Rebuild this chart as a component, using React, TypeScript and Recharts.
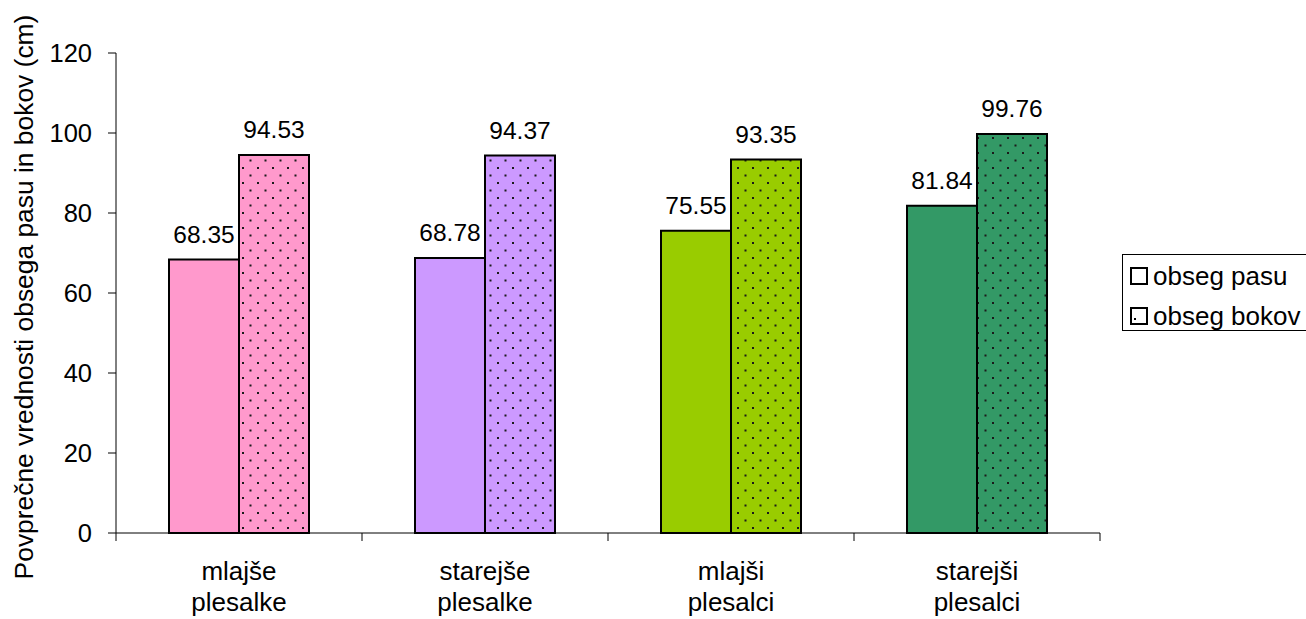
import React from 'react';
import { BarChart, Bar, XAxis, YAxis, Cell, LabelList, Legend } from 'recharts';

// Groups of dancers
const categories = ['mlajše plesalke', 'starejše plesalke', 'mlajši plesalci', 'starejši plesalci'];
// Mean waist circumference (cm)
const waistValues = [68.35, 68.78, 75.55, 81.84];
// Mean hip circumference (cm)
const hipValues = [94.53, 94.37, 93.35, 99.76];
// One colour per group
const groupColors = ['#FF99CC', '#CC99FF', '#99CC00', '#339966'];
const yTicks = [0, 20, 40, 60, 80, 100, 120];
const seriesNames = ['obseg pasu', 'obseg bokov'];
const yTitle = 'Povprečne vrednosti obsega pasu in bokov (cm)';

const data = categories.map((name, i) => ({
  name,
  pasu: waistValues[i],
  bokov: hipValues[i],
}));

const FONT = '"Liberation Sans", Arial, sans-serif';

const CategoryTick = (props: any) => {
  const { x, y, payload, index } = props;
  const half = payload && payload.offset ? payload.offset : 123;
  const lines = String(payload.value).split(' ');
  return (
    <g>
      <line x1={x - half} y1={y} x2={x - half} y2={y + 8} stroke="#000" strokeWidth={1} />
      {index === categories.length - 1 && (
        <line x1={x + half} y1={y} x2={x + half} y2={y + 8} stroke="#000" strokeWidth={1} />
      )}
      <text x={x} y={y} textAnchor="middle" fontFamily={FONT} fontSize={26} fill="#000">
        {lines.map((l, k) => (
          <tspan key={k} x={x} dy={k === 0 ? 47 : 31}>
            {l}
          </tspan>
        ))}
      </text>
    </g>
  );
};

const AxisTitle = (props: any) => {
  const vb = props.viewBox || { y: 53, height: 480 };
  const cy = vb.y + vb.height / 2 + 4;
  return (
    <text
      transform={`translate(33, ${cy}) rotate(-90)`}
      textAnchor="middle"
      fontFamily={FONT}
      fontSize={26.4}
      fill="#000"
    >
      {yTitle}
    </text>
  );
};

const LegendBox = () => (
  <div
    style={{
      border: '1px solid #000',
      width: 200,
      height: 77,
      boxSizing: 'border-box',
      fontFamily: FONT,
      fontSize: 26,
      color: '#000',
      background: '#fff',
      position: 'relative',
    }}
  >
    {seriesNames.map((n, i) => (
      <div
        key={n}
        style={{ position: 'absolute', left: 7, top: 11 + i * 40, height: 20, display: 'flex', alignItems: 'center', whiteSpace: 'nowrap' }}
      >
        <svg width={18} height={18} style={{ marginRight: 5 }}>
          <rect x={1} y={1} width={16} height={16} fill={i === 0 ? '#fff' : 'url(#dots-legend)'} stroke="#000" strokeWidth={2} />
        </svg>
        <span style={{ lineHeight: '20px' }}>{n}</span>
      </div>
    ))}
  </div>
);

export default function App() {
  return (
    <div style={{ position: 'absolute', left: 0, top: 0, width: 1306, height: 619, overflow: 'hidden', background: '#fff' }}>
      <BarChart
        width={1306}
        height={619}
        data={data}
        margin={{ top: 53, right: 206, bottom: 0, left: 0 }}
        barGap={0}
        barSize={70}
      >
        <defs>
          {groupColors.map((c, i) => (
            <pattern key={i} id={`dots-${i}`} width={15} height={15} patternUnits="userSpaceOnUse">
              <rect width={15} height={15} fill={c} />
              <rect x={2} y={2} width={2} height={2} fill="#1a1a1a" />
              <rect x={9.5} y={9.5} width={2} height={2} fill="#1a1a1a" />
            </pattern>
          ))}
          <pattern id="dots-legend" x={0} y={0} width={15} height={15} patternUnits="userSpaceOnUse">
            <rect width={15} height={15} fill="#fff" />
            <rect x={4} y={11} width={2} height={2} fill="#000" />
          </pattern>
        </defs>
        <XAxis
          dataKey="name"
          interval={0}
          height={86}
          tickSize={0}
          tickMargin={0}
          tickLine={false}
          axisLine={{ stroke: '#000', strokeWidth: 1 }}
          tick={<CategoryTick />}
        />
        <YAxis
          width={116}
          domain={[0, 120]}
          ticks={yTicks}
          interval={0}
          tickSize={8}
          tickMargin={16}
          tickLine={{ stroke: '#000' }}
          axisLine={{ stroke: '#000', strokeWidth: 1 }}
          tick={{ fill: '#000', fontSize: 25.5, fontFamily: FONT }}
          label={<AxisTitle />}
        />
        <Legend
          layout="vertical"
          align="center"
          verticalAlign="middle"
          content={<LegendBox />}
          wrapperStyle={{ left: 1122, top: 254, width: 200, height: 77 }}
        />
        <Bar dataKey="pasu" name={seriesNames[0]} stroke="#000" strokeWidth={2} isAnimationActive={false}>
          {data.map((_, i) => (
            <Cell key={i} fill={groupColors[i]} />
          ))}
          <LabelList
            dataKey="pasu"
            position="top"
            offset={17}
            formatter={(v: any) => Number(v).toFixed(2)}
            style={{ fill: '#000', fontSize: 24.5, fontFamily: FONT }}
          />
        </Bar>
        <Bar dataKey="bokov" name={seriesNames[1]} stroke="#000" strokeWidth={2} isAnimationActive={false}>
          {data.map((_, i) => (
            <Cell key={i} fill={`url(#dots-${i})`} />
          ))}
          <LabelList
            dataKey="bokov"
            position="top"
            offset={17}
            formatter={(v: any) => Number(v).toFixed(2)}
            style={{ fill: '#000', fontSize: 24.5, fontFamily: FONT }}
          />
        </Bar>
      </BarChart>
    </div>
  );
}
